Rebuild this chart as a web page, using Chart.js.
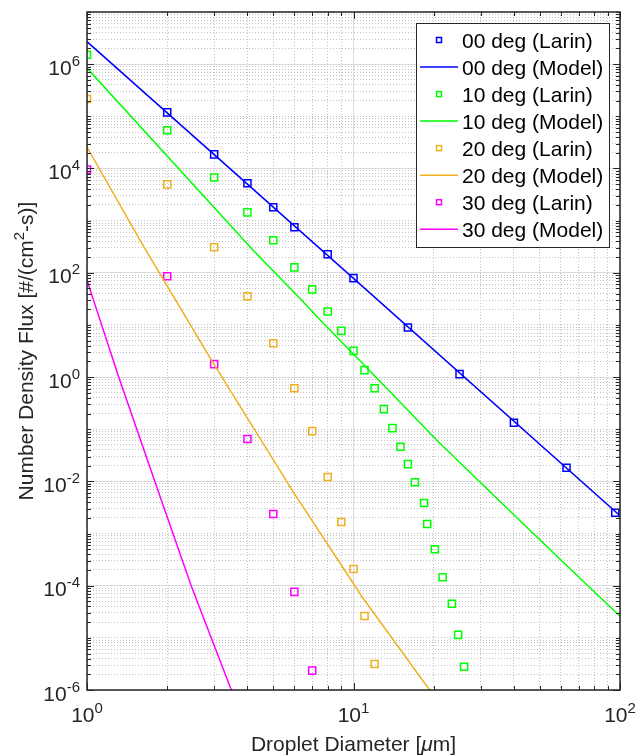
<!DOCTYPE html>
<html>
<head>
<meta charset="utf-8">
<script src="https://cdn.jsdelivr.net/npm/chart.js@4.4.1/dist/chart.umd.min.js"></script>
<style>
  html, body { margin: 0; padding: 0; background: #fff; }
</style>
</head>
<body>
<canvas id="fluxChart" width="639" height="756"></canvas>
<script>
// Larin measurements: droplet diameter [um] vs number density flux
const larin00X = [2, 3, 4, 5, 6, 8, 10, 16, 25, 40, 63, 96];
const larin00Y = [1.19e5, 1.86e4, 5.2e3, 1.8e3, 745, 226, 79, 8.9, 1.14, 0.133, 0.0182, 2.5e-3];

const larin10X = [1, 2, 3, 4, 5, 6, 7, 8, 9, 10, 11, 12, 13, 14, 15, 16, 17, 18.4, 18.9, 20.2, 21.6, 23.4, 24.7, 26];
const larin10Y = [1.51e6, 5.4e4, 6.7e3, 1.44e3, 420, 127, 48, 18.1, 7.7, 3.18, 1.36, 0.61, 0.243, 0.105,
                  0.046, 0.0214, 9.6e-3, 3.84e-3, 1.52e-3, 5.0e-4, 1.45e-4, 4.5e-5, 1.14e-5, 2.8e-6];

const larin20X = [1, 2, 3, 4, 5, 6, 7, 8, 9, 10, 11, 12];
const larin20Y = [2.14e5, 4.96e3, 308, 35.5, 4.46, 0.61, 0.092, 0.0121, 1.66e-3, 2.09e-4, 2.63e-5, 3.16e-6];

const larin30X = [1, 2, 3, 4, 5, 6, 7];
const larin30Y = [9.5e3, 86, 1.77, 0.065, 2.37e-3, 7.6e-5, 2.35e-6];

// model curves
const model00X = [1, 10, 100];
const model00Y = [2.7e6, 78, 2.2e-3];

const model10X = [1, 4.2, 6.3, 7.5, 12.8, 20.5, 35, 60, 100];
const model10Y = [8.4e5, 270, 32, 12.4, 0.75, 0.062, 4.4e-3, 3.1e-4, 2.6e-5];

const model20X = [1, 1.63, 3.0, 6.04, 10.8, 19.3];
const model20Y = [2.57e4, 320, 1.74, 5.5e-3, 6.0e-5, 1e-6];

const model30X = [1, 1.315, 1.9, 2.46, 3.48];
const model30Y = [72, 1, 4.4e-3, 1e-4, 1e-6];

const seriesLabels = ['00 deg (Larin)', '00 deg (Model)', '10 deg (Larin)', '10 deg (Model)',
                      '20 deg (Larin)', '20 deg (Model)', '30 deg (Larin)', '30 deg (Model)'];
const seriesColors = ['#0000ff', '#00ff00', '#edb120', '#ff00ff'];

// decade exponents that get a label
const xTickExps = [0, 1, 2];
const yTickExps = [-6, -4, -2, 0, 2, 4, 6];

const FONT = "'Liberation Sans', Arial, Helvetica, sans-serif";
const AXIS_COLOR = '#262626';
const TICK_SIZE = 21;
const EXP_SIZE = 15;
const TITLE_SIZE = 21;
const LEGEND_SIZE = 21;

// every 1..9 x 10^k position, used for grid lines and tick marks
function logSteps(k0, k1) {
  const out = [];
  for (let k = k0; k < k1; k++) {
    for (let m = 1; m <= 9; m++) out.push(m * Math.pow(10, k));
  }
  out.push(Math.pow(10, k1));
  return out;
}
const xGridValues = logSteps(0, 2);
const yGridValues = logSteps(-6, 7);

const isDecade = v => Math.abs(Math.log10(v) - Math.round(Math.log10(v))) < 1e-9;
const isMajorX = v => isDecade(v);
const isMajorY = v => isDecade(v) && Math.round(Math.log10(v)) % 2 === 0;

const pts = (xs, ys) => xs.map((x, i) => ({ x: x, y: ys[i] }));

function markerSet(label, color, xs, ys) {
  return {
    label: label,
    data: pts(xs, ys),
    showLine: false,
    borderColor: color,
    backgroundColor: 'rgba(0,0,0,0)',
    pointStyle: 'rect',
    pointRadius: 5,
    pointBorderWidth: 1.5,
    pointBackgroundColor: 'rgba(0,0,0,0)',
    pointBorderColor: color
  };
}

function lineSet(label, color, xs, ys) {
  return {
    label: label,
    data: pts(xs, ys),
    showLine: true,
    borderColor: color,
    borderWidth: 1.5,
    pointRadius: 0,
    tension: 0,
    fill: false
  };
}

const datasets = [
  markerSet(seriesLabels[0], seriesColors[0], larin00X, larin00Y),
  lineSet(seriesLabels[1], seriesColors[0], model00X, model00Y),
  markerSet(seriesLabels[2], seriesColors[1], larin10X, larin10Y),
  lineSet(seriesLabels[3], seriesColors[1], model10X, model10Y),
  markerSet(seriesLabels[4], seriesColors[2], larin20X, larin20Y),
  lineSet(seriesLabels[5], seriesColors[2], model20X, model20Y),
  markerSet(seriesLabels[6], seriesColors[3], larin30X, larin30Y),
  lineSet(seriesLabels[7], seriesColors[3], model30X, model30Y)
];

// "10" with a raised exponent
function drawPower(ctx, exp, x, y, anchor) {
  const expText = String(exp);
  ctx.font = TICK_SIZE + 'px ' + FONT;
  const wb = ctx.measureText('10').width;
  ctx.font = EXP_SIZE + 'px ' + FONT;
  const we = ctx.measureText(expText).width;
  const x0 = anchor === 'right' ? x - wb - we : x - (wb + we) / 2;
  ctx.font = TICK_SIZE + 'px ' + FONT;
  ctx.fillText('10', x0, y);
  ctx.font = EXP_SIZE + 'px ' + FONT;
  ctx.fillText(expText, x0 + wb, y - 9);
}

const axesDecor = {
  id: 'axesDecor',
  afterDraw(chart) {
    const ctx = chart.ctx;
    const a = chart.chartArea;
    const xs = chart.scales.x;
    const ys = chart.scales.y;
    ctx.save();

    // inward tick marks on all four sides
    ctx.strokeStyle = AXIS_COLOR;
    ctx.lineWidth = 1;
    ctx.beginPath();
    xGridValues.forEach(v => {
      const px = Math.round(xs.getPixelForValue(v)) + 0.5;
      const len = isMajorX(v) ? 7 : 4;
      ctx.moveTo(px, a.bottom); ctx.lineTo(px, a.bottom - len);
      ctx.moveTo(px, a.top); ctx.lineTo(px, a.top + len);
    });
    yGridValues.forEach(v => {
      const py = Math.round(ys.getPixelForValue(v)) + 0.5;
      const len = isMajorY(v) ? 7 : 4;
      ctx.moveTo(a.left, py); ctx.lineTo(a.left + len, py);
      ctx.moveTo(a.right, py); ctx.lineTo(a.right - len, py);
    });
    ctx.stroke();

    // box
    ctx.lineWidth = 1.5;
    ctx.strokeRect(a.left, a.top, a.right - a.left, a.bottom - a.top);

    // tick labels
    ctx.fillStyle = AXIS_COLOR;
    ctx.textBaseline = 'alphabetic';
    ctx.textAlign = 'left';
    yTickExps.forEach(k => {
      const py = ys.getPixelForValue(Math.pow(10, k));
      drawPower(ctx, k, a.left - 7, py + 10.5, 'right');
    });
    xTickExps.forEach(k => {
      const px = xs.getPixelForValue(Math.pow(10, k));
      drawPower(ctx, k, px, a.bottom + 32, 'center');
    });

    // x title, with an italic mu
    const tFont = TITLE_SIZE + 'px ' + FONT;
    const tItalic = 'italic ' + TITLE_SIZE + 'px ' + FONT;
    const xParts = [['Droplet Diameter [', tFont], ['\u03bc', tItalic], ['m]', tFont]];
    let total = 0;
    xParts.forEach(p => { ctx.font = p[1]; total += ctx.measureText(p[0]).width; });
    let cx = (a.left + a.right) / 2 - total / 2;
    xParts.forEach(p => { ctx.font = p[1]; ctx.fillText(p[0], cx, 751); cx += ctx.measureText(p[0]).width; });

    // y title, rotated, with a superscript 2
    const supFont = EXP_SIZE + 'px ' + FONT;
    const yParts = [['Number Density Flux [#/(cm', tFont, 0], ['2', supFont, -9], ['-s)]', tFont, 0]];
    total = 0;
    yParts.forEach(p => { ctx.font = p[1]; total += ctx.measureText(p[0]).width; });
    ctx.save();
    ctx.translate(33, (a.top + a.bottom) / 2);
    ctx.rotate(-Math.PI / 2);
    cx = -total / 2;
    yParts.forEach(p => { ctx.font = p[1]; ctx.fillText(p[0], cx, p[2]); cx += ctx.measureText(p[0]).width; });
    ctx.restore();

    // legend box inside the axes
    const lg = { left: 416, top: 23, right: 609, bottom: 247 };
    ctx.fillStyle = '#ffffff';
    ctx.fillRect(lg.left, lg.top, lg.right - lg.left, lg.bottom - lg.top);
    ctx.strokeStyle = AXIS_COLOR;
    ctx.lineWidth = 1;
    ctx.strokeRect(lg.left + 0.5, lg.top + 0.5, lg.right - lg.left, lg.bottom - lg.top);
    chart.data.datasets.forEach((ds, i) => {
      const rowY = 40 + i * 27.04;
      ctx.strokeStyle = ds.borderColor;
      ctx.lineWidth = 1.5;
      if (ds.showLine) {
        ctx.beginPath();
        ctx.moveTo(420, rowY);
        ctx.lineTo(458, rowY);
        ctx.stroke();
      } else {
        ctx.strokeRect(436.5, rowY - 2.5, 5, 5);
      }
      ctx.fillStyle = '#000000';
      ctx.font = LEGEND_SIZE + 'px ' + FONT;
      ctx.fillText(ds.label, 462, rowY + 7.5);
    });

    ctx.restore();
  }
};

new Chart(document.getElementById('fluxChart'), {
  type: 'scatter',
  data: { datasets: datasets },
  options: {
    responsive: false,
    devicePixelRatio: 1,
    animation: false,
    layout: { padding: { left: 87, top: 12, right: 19, bottom: 66 } },
    plugins: {
      legend: { display: false },
      tooltip: { enabled: false }
    },
    scales: {
      x: {
        type: 'logarithmic',
        min: 1,
        max: 100,
        afterBuildTicks: s => { s.ticks = xGridValues.map(v => ({ value: v })); },
        afterFit: s => { s.height = 0; },
        ticks: { display: false },
        grid: {
          drawTicks: false,
          color: c => isMajorX(c.tick.value) ? '#dadada' : '#c2c2c2',
          lineWidth: 1
        },
        border: {
          display: false,
          dash: c => (c.tick && !isMajorX(c.tick.value)) ? [1, 2] : []
        }
      },
      y: {
        type: 'logarithmic',
        min: 1e-6,
        max: 1e7,
        afterBuildTicks: s => { s.ticks = yGridValues.map(v => ({ value: v })); },
        afterFit: s => { s.width = 0; },
        ticks: { display: false },
        grid: {
          drawTicks: false,
          color: c => isMajorY(c.tick.value) ? '#dadada' : '#c2c2c2',
          lineWidth: 1
        },
        border: {
          display: false,
          dash: c => (c.tick && !isMajorY(c.tick.value)) ? [1, 2] : []
        }
      }
    }
  },
  plugins: [axesDecor]
});
</script>
</body>
</html>
